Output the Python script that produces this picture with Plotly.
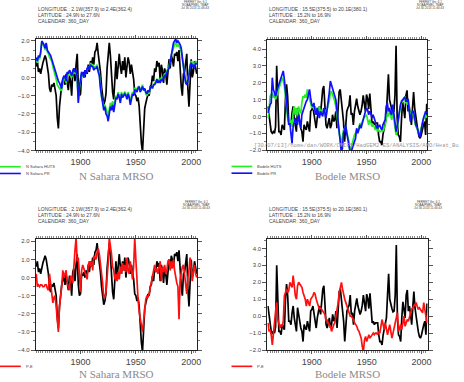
import plotly.graph_objects as go

# ---------------- data (annual, 1860-2005) ----------------
years = list(range(1860, 2006))

ns_mrso = [0.6, 0.9, 0.3, 0.5, 0.2, 0.6, 0.8, 1.0, 1.2, 1.0,
           0.7, 0.2, -0.6, -0.8, -0.4, -0.5, -0.3, -0.6, -1.0, -2.2,
           -2.8, -1.6, -0.8, -0.4, -0.1, 0.0, -0.4, 0.2, -0.3, -0.7,
           0.1, -0.2, -1.0, 0.3, 0.5, -0.2, 0.7, 1.3, -0.4, -1.0,
           -0.9, 0.2, 0.1, 0.3, 0.0, 0.4, 0.2, 0.7, 0.3, 0.9,
           0.6, 1.1, 0.7, 1.4, 1.5, 1.9, 1.3, 0.9, 0.3, -0.5,
           -1.1, -1.5, -1.3, -0.9, 0.5, 1.5, 1.9, 1.2, 0.0, -0.8,
           -1.2, 0.1, 0.9, -0.1, 0.5, 1.3, 0.6, 0.2, 0.9, 0.4,
           1.1, 0.0, 0.6, 1.1, 0.8, 0.2, 0.7, 0.3, -0.1, -0.9,
           -1.0, -1.3, -1.1, -1.6, -2.8, -3.6, -4.1, -3.0, -1.7, -1.4,
           -1.1, -0.9, -1.0, -0.5, -0.4, 0.1, -0.2, 0.5, 0.3, 0.9,
           0.6, 0.8, -0.2, 0.7, 0.4, -0.3, 0.5, 0.2, -0.4, 0.6,
           1.0, 0.5, 1.2, 1.0, 0.6, 1.3, 1.2, 1.4, 0.9, 1.5,
           0.2, -0.5, -1.0, 0.2, 0.3, 0.8, 1.3, -0.6, -1.6, -0.3,
           1.0, 0.0, 0.3, 0.9, 0.5, 0.2]

ns_huts = [1.0, 0.8, 1.1, 1.0, 1.3, 1.9, 1.8, 1.7, 1.5, 1.8,
           1.4, 1.3, 1.1, 1.0, 0.9, 0.6, 0.4, 0.2, -0.1, -0.4,
           -0.5, -0.6, -0.7, -0.7, -0.2, 0.0, -0.1, -0.3, 0.2, 0.1,
           0.3, 0.2, 0.0, 0.3, 0.4, 0.2, 0.3, -0.1, -1.3, -0.6,
           0.0, 0.2, 0.1, 0.0, 0.3, 0.2, 0.4, 0.6, 0.5, 0.8,
           0.7, 0.7, 0.5, 0.6, 0.6, 0.7, 0.4, 0.2, -0.4, -1.1,
           -1.3, -1.6, -1.5, -1.8, -1.9, -2.1, -1.8, -1.4, -1.6, -1.3,
           -1.7, -1.3, -1.0, -1.1, -0.8, -1.0, -1.3, -0.8, -1.0, -0.9,
           -0.8, -0.9, -1.1, -0.8, -1.0, -1.3, -1.0, -0.8, -0.9, -0.6,
           -0.6, -0.7, -0.5, -0.5, -0.8, -0.6, -0.4, -0.7, -0.6, -0.9,
           -1.0, -0.8, -0.9, -0.6, -0.5, -0.5, -0.4, -0.3, -0.2, -0.1,
           -0.2, -0.1, -0.2, 0.0, -0.1, 0.1, 0.2, 0.2, 0.4, 0.5,
           0.6, 1.0, 1.2, 1.4, 1.7, 1.8, 1.9, 1.7, 1.8, 1.7,
           1.6, 1.4, 1.1, 0.6, 0.2, -0.2, -0.3, -0.1, 0.2, 0.7,
           0.9, 0.7, 0.8, 0.6, 0.9, 0.8]

ns_pr = [1.1, 0.9, 1.2, 1.1, 1.4, 2.0, 1.9, 1.8, 1.6, 1.9,
         1.5, 1.4, 1.3, 1.2, 1.0, 0.8, 0.6, 0.4, 0.2, -0.1,
         -0.2, -0.3, -0.5, -0.6, -0.1, 0.1, 0.0, -0.2, 0.3, 0.2,
         0.4, 0.3, 0.1, 0.4, 0.5, 0.3, 0.4, 0.0, -1.4, -0.5,
         0.1, 0.3, 0.2, 0.0, 0.4, 0.2, 0.5, 0.6, 0.4, 0.7,
         0.6, 0.6, 0.4, 0.5, 0.5, 0.6, 0.3, 0.1, -0.6, -1.2,
         -1.4, -1.8, -1.6, -2.0, -2.1, -2.4, -2.0, -1.6, -1.8, -1.5,
         -1.9, -1.4, -1.1, -1.2, -0.9, -1.1, -1.4, -0.9, -1.1, -1.0,
         -0.9, -1.0, -1.2, -0.9, -1.1, -1.5, -1.2, -0.9, -1.0, -0.7,
         -0.7, -0.8, -0.6, -0.5, -0.8, -0.6, -0.5, -0.7, -0.6, -0.8,
         -0.9, -0.7, -0.8, -0.6, -0.5, -0.6, -0.4, -0.4, -0.3, -0.1,
         -0.3, -0.2, -0.3, -0.1, -0.2, 0.0, 0.1, 0.1, 0.3, 0.4,
         0.5, 0.9, 1.2, 1.5, 1.9, 2.0, 2.1, 1.9, 2.0, 1.9,
         1.8, 1.6, 1.2, 0.6, 0.1, -0.3, -0.4, -0.2, 0.1, 0.6,
         0.8, 0.6, 0.7, 0.5, 0.8, 0.7]

ns_pe = [0.2, -0.5, -0.4, -0.5, -0.4, -0.4, -0.5, -0.5, -0.4, -0.4,
         -0.6, -0.7, 0.2, -0.4, -1.0, -1.4, -1.1, -1.0, -1.6, -2.4,
         -3.0, -1.6, -1.1, -0.5, 0.4, 0.0, 0.2, 0.4, -0.3, -0.5,
         -0.7, 0.1, 0.0, -0.3, 0.9, 1.5, 2.2, 0.9, 1.1, -0.2,
         -0.8, 0.4, 0.7, 0.5, 0.3, 0.2, -0.1, 0.7, 0.9, 0.6,
         0.9, 0.4, 1.2, 1.1, 1.0, 1.4, 1.6, 1.3, 0.8, 0.5,
         -0.3, -1.1, -1.1, -0.8, -0.2, 0.8, 2.2, 1.8, 1.3, 0.6,
         0.4, -0.1, 0.2, -0.2, 0.3, -0.1, 0.6, 0.2, 0.8, 0.4,
         0.7, 0.3, 1.1, 0.4, 0.2, 0.9, 0.5, -0.1, 0.6, 2.2,
         1.0, -0.5, -1.2, -1.9, -2.3, -2.7, -3.0, -2.4, -1.5, -1.2,
         -1.0, -1.1, -0.9, -0.6, -0.3, 0.1, 0.5, 0.7, 0.3, 0.5,
         0.2, 0.6, 0.9, -0.2, 0.6, 0.3, 0.7, 0.2, 0.4, 0.9,
         1.0, 0.4, 0.9, 0.5, 1.0, 0.4, 0.0, -0.3, -0.5, -2.3,
         -0.1, 0.4, 0.6, 0.7, 0.1, -0.3, -0.9, 0.0, 0.4, 1.1,
         0.5, -0.2, 0.4, 0.7, 0.2, 0.0]

bod_mrso = [0.6, 0.0, -0.7, -0.9, -1.0, -0.9, -1.0, -0.6, 3.0, 0.9,
            -0.9, -0.9, -1.1, -0.5, -0.7, -0.8, 1.0, 1.9, 1.2, -0.3,
            -0.3, -0.5, 0.2, 0.6, -0.1, -0.5, -0.9, 0.5, 0.2, -0.3,
            -0.7, -0.9, -1.5, -0.5, -0.7, -0.8, -0.3, -0.6, -0.9, 0.3,
            0.4, 0.6, 0.1, -0.4, -0.7, -0.1, 0.3, 0.6, 0.1, 0.8,
            1.6, 1.8, 0.6, -0.5, -0.7, -0.4, -0.1, -0.7, -0.5, 0.1,
            -0.3, -0.2, 0.3, -0.7, 0.2, 1.45, 1.6, 0.9, 0.45, -0.3,
            -1.5, -0.7, 0.3, 0.5, 0.65, 1.25, 0.1, 0.2, -0.5, 0.3,
            0.85, 1.05, 0.6, 0.3, 0.1, 0.3, 0.65, 1.25, 0.7, 0.3,
            1.3, 1.05, 0.45, 1.35, 0.5, -0.4, -0.3, -0.5, -0.4, -0.4,
            -0.4, -1.1, -1.5, -1.5, -1.7, -1.1, -0.7, -0.3, -0.1, 1.25,
            2.5, 1.0, 0.65, 0.45, 0.25, 0.3, 1.25, 4.2, -0.1, -1.1,
            -1.2, -1.5, -0.1, 0.85, 0.4, -0.1, 1.25, 1.55, 0.3, 0.6,
            0.1, -0.5, 0.5, 1.45, 0.5, -0.1, -0.4, -0.9, -1.2, -1.3,
            -1.1, -0.7, -0.5, -0.3, -1.1, 0.75]

bod_huts = [-0.1, 0.3, 1.2, 1.3, 1.4, 1.1, 1.3, 1.0, 1.2, 1.5,
            1.6, 1.9, 2.0, 2.3, 2.1, 1.8, 1.2, 0.5, -0.1, -0.3,
            -0.5, -0.2, -0.6, 0.2, 0.6, 0.1, 0.5, 0.0, 0.6, 0.3,
            0.2, 0.8, 1.2, 1.1, 1.3, 1.1, 1.6, 1.3, 1.1, 0.8,
            0.5, 0.7, 0.4, 0.6, 0.3, 0.5, 0.3, 0.6, 0.2, 0.4,
            0.1, 0.3, 0.4, 0.0, 0.5, 0.7, 0.9, 1.4, 1.5, 1.3,
            1.2, 0.9, 0.6, 0.2, -0.4, -1.0, -1.3, -1.6, -1.2, -0.8,
            -0.7, -0.6, -0.9, -1.2, -1.5, -2.1, -1.8, -1.5, -1.3, -1.1,
            -1.0, -0.8, -0.9, -0.6, -0.4, -0.5, -0.3, -0.2, 0.0, 0.0,
            0.1, -0.2, -0.5, -0.2, -0.4, -0.6, -0.5, -0.6, -0.8, -0.7,
            -0.9, -0.8, -0.9, -0.9, -0.8, -0.9, -0.7, -0.6, -0.1, 0.2,
            0.0, 0.3, 0.1, -0.2, 0.3, -0.2, -0.5, -1.1, -0.8, -0.3,
            0.3, 0.6, 0.8, 0.9, 1.0, 1.2, 0.8, 0.7, 1.0, 0.5,
            0.0, 0.2, 0.2, 0.0, -0.4, -0.6, -0.7, -1.0, -1.1, -0.9,
            -0.6, -0.4, -0.2, 0.0, 0.1, -0.1]

bod_pr = [0.2, 0.5, 0.7, 0.8, 2.3, 1.6, 1.4, 1.2, 1.5, 1.7,
          1.9, 2.2, 2.3, 2.6, 2.7, 2.2, 1.4, 0.6, 0.0, -0.5,
          -0.4, -0.9, -1.6, -0.6, -0.3, -0.1, -0.3, -0.5, 0.1, -0.3,
          -0.7, 0.1, 0.3, 0.5, 0.8, 0.9, 1.0, 1.3, 1.6, 1.1,
          0.7, 0.6, 0.8, 0.3, 0.1, 0.5, 0.2, -0.1, 0.3, 0.1,
          0.0, 0.5, 0.2, -0.1, 0.4, 0.8, 1.4, 2.1, 1.9, 1.7,
          1.5, 1.3, 1.0, 0.4, -0.2, -0.8, -1.8, -2.1, -1.9, -1.0,
          -0.8, -0.5, -1.0, -1.4, -1.8, -2.1, -2.1, -1.9, -1.6, -1.5,
          -1.3, -0.7, -1.0, -0.8, -0.5, -0.7, -0.4, -0.1, 0.1, 0.3,
          0.5, 0.4, 0.1, 0.3, 0.2, -0.1, 0.1, -0.1, -0.3, -0.7,
          -0.6, -0.6, -0.5, -0.7, -0.8, -0.5, -0.3, -0.2, 0.6, 0.8,
          0.3, 0.5, 0.2, 0.1, 0.7, 0.2, -0.3, -0.9, -0.6, -0.2,
          0.4, 0.7, 0.9, 1.0, 1.05, 1.15, 0.9, 0.9, 1.05, 0.4,
          -0.3, 0.1, 0.3, 0.3, -0.3, -0.5, -0.6, -0.9, -1.1, -1.2,
          -0.7, -0.4, -0.1, 0.1, 0.3, 0.2]

bod_pe = [-0.4, -0.9, -0.8, -1.1, -1.7, -0.8, -0.4, 0.3, 0.8, -0.2,
          -0.5, -0.7, -0.5, -0.6, -0.3, 1.2, 1.4, 1.6, 1.4, 1.5,
          2.0, 1.8, 1.7, 2.4, 1.6, 1.2, 1.0, 1.8, 2.0, 1.9,
          1.8, 1.7, 1.4, 1.2, 1.0, 0.6, 1.0, 0.8, 0.6, 1.0,
          1.1, 1.2, 1.4, 1.3, 1.0, 0.8, 0.6, 0.4, 0.5, 0.4,
          0.3, 0.2, 0.1, -0.3, -0.2, -0.4, -0.5, -0.6, -0.9, -0.6,
          -0.5, -0.4, 0.0, 0.3, 0.8, 1.4, 1.8, 2.0, 1.6, 1.2,
          1.0, 0.8, 0.6, 0.4, 0.1, 0.0, 0.0, -0.1, -0.2, -0.4,
          -0.5, -0.6, -0.8, -0.9, -1.1, -1.3, -1.8, -2.1, -1.4, -1.2,
          -1.5, -1.3, -1.1, -1.3, -1.2, -1.1, -1.0, -1.1, -1.0, -1.0,
          -1.1, -0.9, -1.0, -0.6, -0.2, -0.5, -0.8, -0.4, -0.7, -1.1,
          -0.8, -0.5, -0.9, -1.3, -1.0, -0.7, -0.4, -0.2, 0.2, -0.9,
          -0.6, -0.5, -0.8, -0.4, 0.0, -0.6, -0.3, -0.2, -0.3, 0.0,
          0.1, 0.4, 0.5, 0.6, 0.7, 0.8, 0.6, 0.4, 0.5, 0.4,
          0.3, 0.2, 0.8, 0.3, 0.0, -0.4]

x_ticks = [1900, 1950, 2000]

ns_header = ["LONGITUDE : 2.1W(357.9) to 2.4E(362.4)",
             "LATITUDE : 24.9N to 27.6N",
             "CALENDAR: 360_DAY"]
bod_header = ["LONGITUDE : 15.5E(375.5) to 20.1E(380.1)",
              "LATITUDE : 15.2N to 16.9N",
              "CALENDAR: 360_DAY"]
ferret_stamp = ["FERRET Ver. 6.1", "NOAA/PMEL TMAP", "Jul 30 2013 11:46:43"]
path_label = "[30/07/13]/home/dan/WORK/CMIP5/HadGEM2-ES/ANALYSIS/AMO/Heat_Bu"

# ---------------- layout helpers ----------------
W, H = 464, 382
BLACK, GREEN, BLUE, RED = "#000000", "#22ee22", "#1010ff", "#ff1010"


def px(x):
    return x / W


def py(y):
    return 1 - y / H


panels = [
    dict(box=(36, 38, 199, 151), yr=[-4.0, 2.13], title="N Sahara MRSO",
         ty=177, series=[(ns_mrso, BLACK), (ns_huts, GREEN), (ns_pr, BLUE)],
         header=ns_header, stamp_x=197, hy=0,
         legend=[(GREEN, "N Sahara HUTS"), (BLUE, "N Sahara PR")], lx=0),
    dict(box=(269.7, 39, 431, 150.7), yr=[-2.0, 4.56], title="Bodele MRSO",
         ty=177, series=[(bod_mrso, BLACK), (bod_huts, GREEN), (bod_pr, BLUE)],
         header=bod_header, stamp_x=434, hy=0,
         legend=[(GREEN, "Bodele HUTS"), (BLUE, "Bodele PR")], lx=233.5),
    dict(box=(36, 240.5, 199, 352.7), yr=[-4.0, 2.13], title="N Sahara MRSO",
         ty=376.5, series=[(ns_mrso, BLACK), (ns_pe, RED)],
         header=ns_header, stamp_x=198, hy=202,
         legend=[(RED, "P-E")], lx=0),
    dict(box=(269.7, 240.5, 431.3, 352.7), yr=[-2.0, 4.56], title="Bodele MRSO",
         ty=376.5, series=[(bod_mrso, BLACK), (bod_pe, RED)],
         header=bod_header, stamp_x=432, hy=202,
         legend=[(RED, "P-E")], lx=233.5),
]

fig = go.Figure()
shapes = []
annotations = []
layout_axes = {}

for i, p in enumerate(panels):
    n = i + 1
    xa = "x" if n == 1 else f"x{n}"
    ya = "y" if n == 1 else f"y{n}"
    x0, y0, x1, y1 = p["box"]
    for vals, col in p["series"]:
        fig.add_trace(go.Scatter(
            x=years, y=vals, xaxis=xa, yaxis=ya, mode="lines",
            line=dict(color=col, width=1.7), showlegend=False,
            hoverinfo="skip"))

    common = dict(showline=True, linecolor="#222", linewidth=1, mirror="ticks",
                  ticks="outside", tickcolor="#555", showgrid=False,
                  zeroline=False)
    layout_axes["xaxis" if n == 1 else f"xaxis{n}"] = dict(
        common, domain=[px(x0), px(x1)], anchor=ya, range=[1859.5, 2005.5],
        tickmode="array", tickvals=x_ticks, ticklen=3,
        tickfont=dict(family="Liberation Sans, Arial", size=9, color="#444"),
        minor=dict(tickmode="linear", tick0=1860, dtick=2, ticklen=2,
                   ticks="outside", tickcolor="#888"))
    layout_axes["yaxis" if n == 1 else f"yaxis{n}"] = dict(
        common, domain=[py(y1), py(y0)], anchor=xa, range=p["yr"],
        tickmode="linear", tick0=0, dtick=1, tickformat=".1f", ticklen=4,
        tickfont=dict(family="Liberation Sans, Arial", size=6, color="#444"),
        minor=dict(tickmode="linear", tick0=0, dtick=0.5, ticklen=2,
                   ticks="outside", tickcolor="#777"))

    # title under panel
    annotations.append(dict(
        x=px((x0 + x1) / 2), y=py(p["ty"]), xref="paper", yref="paper",
        text=p["title"], showarrow=False, xanchor="center", yanchor="middle",
        font=dict(family="Liberation Serif, DejaVu Serif", size=11,
                  color="#8a8a8a")))
    # header lines
    hy = p["hy"]
    for k, line in enumerate(p["header"]):
        annotations.append(dict(
            x=px(x0), y=py(hy + 8 + 6 * k), xref="paper", yref="paper",
            text=line, showarrow=False, xanchor="left", yanchor="middle",
            font=dict(family="Liberation Sans, Arial", size=5, color="#444")))
    for k, line in enumerate(ferret_stamp):
        annotations.append(dict(
            x=px(p["stamp_x"]), y=py(hy + 1.5 + 2.8 * k), xref="paper",
            yref="paper", text=line, showarrow=False, xanchor="center",
            yanchor="middle",
            font=dict(family="Liberation Sans, Arial", size=3, color="#444")))
    # legend samples
    ly0 = y1 + 16.5
    for k, (col, lab) in enumerate(p["legend"]):
        yy = ly0 + 6.8 * k
        shapes.append(dict(type="line", xref="paper", yref="paper",
                           x0=px(p["lx"]), x1=px(p["lx"] + 21),
                           y0=py(yy), y1=py(yy),
                           line=dict(color=col, width=1.6)))
        annotations.append(dict(
            x=px(p["lx"] + 24), y=py(yy), xref="paper", yref="paper",
            text=lab, showarrow=False, xanchor="left", yanchor="middle",
            font=dict(family="Liberation Sans, Arial", size=4, color="#444")))

# path label overlapping the Bodele panel
annotations.append(dict(
    x=px(254.5), y=py(146.5), xref="paper", yref="paper", text=path_label,
    showarrow=False, xanchor="left", yanchor="middle",
    font=dict(family="Liberation Mono, DejaVu Sans Mono", size=5.5,
              color="#9a9a9a")))

fig.update_layout(
    width=W, height=H, autosize=False,
    margin=dict(l=0, r=0, t=0, b=0),
    paper_bgcolor="white", plot_bgcolor="white",
    hovermode=False,
    shapes=shapes, annotations=annotations, **layout_axes)

fig.write_html(
    "out.html",
    config={"displayModeBar": False, "staticPlot": True},
    post_script="document.body.style.margin='0px';"
                "document.body.style.overflow='hidden';")
